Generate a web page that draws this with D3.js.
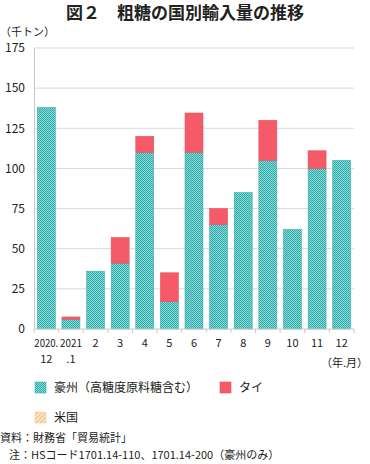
<!DOCTYPE html>
<html><head><meta charset="utf-8">
<script src="https://cdn.jsdelivr.net/npm/d3@7"></script>
<style>body{margin:0;background:#fff;}svg{display:block;font-family:"Noto Sans CJK JP","Noto Sans",sans-serif;}</style>
</head><body><svg id="c" width="370" height="464"></svg>
<script>
const categories = ["2020.12","2021.1","2","3","4","5","6","7","8","9","10","11","12"];
const xLabelLine1 = ["2020.","2021","2","3","4","5","6","7","8","9","10","11","12"];
const xLabelLine2 = ["12",".1","","","","","","","","","","",""];
const australia = [138, 6, 36, 41, 110, 17, 110, 65, 85, 105, 62, 100, 105];
const thailand  = [0, 1.5, 0, 16, 10, 18, 24.5, 10, 0, 25, 0, 11, 0];
const usa       = [0, 0, 0, 0, 0, 0, 0, 0, 0, 0, 0, 0, 0];
const yTicks = [0, 25, 50, 75, 100, 125, 150, 175];
const seriesNames = ["豪州（高糖度原料糖含む）", "タイ", "米国"];

const svg = d3.select("#c");
const defs = svg.append("defs");
const pA = defs.append("pattern").attr("id","pAus").attr("width",2).attr("height",2).attr("patternUnits","userSpaceOnUse");
pA.append("rect").attr("width",2).attr("height",2).attr("fill","#8fd8d6");
pA.append("rect").attr("width",1).attr("height",1).attr("fill","#2aaaa8");
pA.append("rect").attr("x",1).attr("y",1).attr("width",1).attr("height",1).attr("fill","#2aaaa8");
const pU = defs.append("pattern").attr("id","pUS").attr("width",3).attr("height",3).attr("patternUnits","userSpaceOnUse").attr("patternTransform","rotate(45)");
pU.append("rect").attr("width",3).attr("height",3).attr("fill","#fbe3c4");
pU.append("rect").attr("width",1).attr("height",3).attr("fill","#eec08a");

const x = d3.scaleBand().domain(categories).range([34, 354]).paddingInner(0.27).paddingOuter(0.135);
const y = d3.scaleLinear().domain([0, 175]).range([329, 48]);

// title
svg.append("text").attr("x",185).attr("y",19).attr("text-anchor","middle")
  .attr("font-size",17).attr("font-weight","bold").attr("fill","#222").text("図２　粗糖の国別輸入量の推移");
svg.append("text").attr("x",0).attr("y",36).attr("font-size",11).attr("fill","#222").text("（千トン）");

// gridlines
svg.append("g").selectAll("line").data(yTicks.filter(d=>d>0)).join("line")
  .attr("x1",34).attr("x2",354).attr("y1",d=>y(d)).attr("y2",d=>y(d))
  .attr("stroke","#d9d9d9").attr("stroke-width",1);

// y axis
const ya = svg.append("g").attr("transform","translate(34,0)")
  .call(d3.axisLeft(y).tickValues(yTicks).tickSize(0).tickPadding(9));
ya.select(".domain").attr("stroke","#c8c8c8");
ya.selectAll("text").attr("font-size",12).attr("fill","#222").attr("font-family","'Noto Sans CJK JP',sans-serif");

// bars
const stacks = categories.map((c,i)=>({c, a:australia[i], t:thailand[i], u:usa[i]}));
svg.append("g").selectAll("rect").data(stacks).join("rect")
  .attr("x",d=>x(d.c)).attr("width",x.bandwidth())
  .attr("y",d=>y(d.a)).attr("height",d=>y(0)-y(d.a))
  .attr("fill","url(#pAus)").attr("stroke","#3bb5b3").attr("stroke-width",0.6);
svg.append("g").selectAll("rect").data(stacks.filter(d=>d.t>0)).join("rect")
  .attr("x",d=>x(d.c)).attr("width",x.bandwidth())
  .attr("y",d=>y(d.a+d.t)).attr("height",d=>y(d.a)-y(d.a+d.t))
  .attr("fill","#f45a68").attr("stroke","#e8505e").attr("stroke-width",0.6);

// x axis
const xa = svg.append("g").attr("transform","translate(0,329)");
xa.append("line").attr("x1",34).attr("x2",354).attr("stroke","#c8c8c8");
const bounds = categories.map(c=>x(c) - x.step()*x.paddingInner()/2).concat([354]);
bounds[0] = 34;
xa.selectAll("line.t").data(bounds).join("line").attr("class","t")
  .attr("x1",d=>d).attr("x2",d=>d).attr("y1",0).attr("y2",4).attr("stroke","#c8c8c8");
const l1 = xa.selectAll("text.l1").data(categories).join("text").attr("class","l1")
  .attr("x",(d)=>x(d)+x.bandwidth()/2).attr("y",18).attr("text-anchor","middle")
  .attr("font-size",11).attr("fill","#222").text((d,i)=>xLabelLine1[i]);
l1.filter((d,i)=>i<2).attr("textLength",(d,i)=>i===0?24:22).attr("lengthAdjust","spacingAndGlyphs");
xa.selectAll("text.l2").data(categories).join("text").attr("class","l2")
  .attr("x",(d)=>x(d)+x.bandwidth()/2).attr("y",34).attr("text-anchor","middle")
  .attr("font-size",11).attr("fill","#222").text((d,i)=>xLabelLine2[i]);
svg.append("text").attr("x",368).attr("y",367).attr("text-anchor","end")
  .attr("font-size",11).attr("fill","#222").text("（年.月）");

// legend
const leg = [
  {name:seriesNames[0], fill:"url(#pAus)", stroke:"#3bb5b3", x:35, y:382},
  {name:seriesNames[1], fill:"#f45a68", stroke:"#e8505e", x:220, y:382},
  {name:seriesNames[2], fill:"url(#pUS)", stroke:"#f0cfa8", x:35, y:412}
];
const lg = svg.append("g").selectAll("g").data(leg).join("g");
lg.append("rect").attr("x",d=>d.x).attr("y",d=>d.y).attr("width",11).attr("height",11)
  .attr("fill",d=>d.fill).attr("stroke",d=>d.stroke).attr("stroke-width",0.6);
lg.append("text").attr("x",d=>d.x+19).attr("y",d=>d.y+10).attr("font-size",12).attr("fill","#222").text(d=>d.name);

// notes
svg.append("text").attr("x",0).attr("y",442).attr("font-size",11).attr("fill","#222").text("資料：財務省「貿易統計」");
svg.append("text").attr("x",9).attr("y",459).attr("font-size",11).attr("fill","#222").text("注：HSコード1701.14-110、1701.14-200（豪州のみ）");
</script></body></html>
